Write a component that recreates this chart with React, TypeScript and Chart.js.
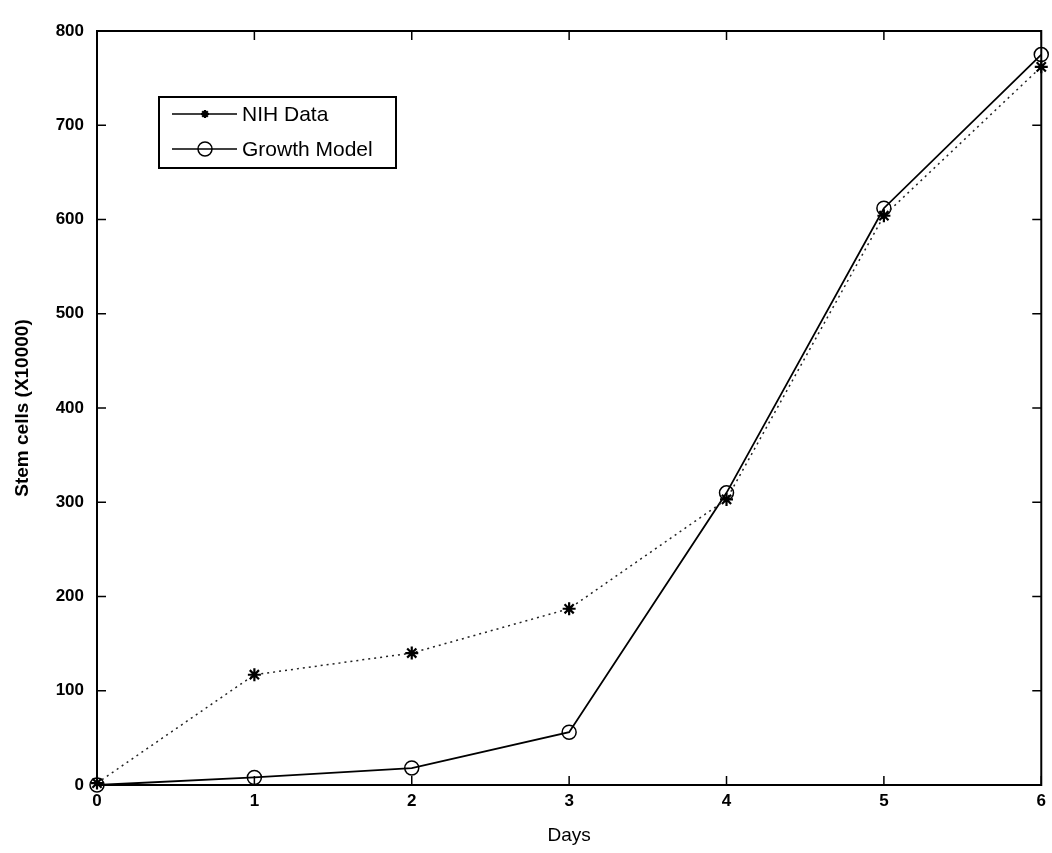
import React, { useEffect, useRef } from "react";
import { Chart, registerables } from "chart.js";

Chart.register(...registerables);

// Observation days and cell counts (in units of 10,000 cells)
const days = [0, 1, 2, 3, 4, 5, 6];
const nihData = [2, 117, 140, 187, 303, 604, 762];
const growthModel = [0, 8, 18, 56, 310, 612, 775];
const yTickValues = [0, 100, 200, 300, 400, 500, 600, 700, 800];
const xTickValues = [0, 1, 2, 3, 4, 5, 6];
const seriesNames = ["NIH Data", "Growth Model"];

const FONT = "'Liberation Sans', Arial, Helvetica, sans-serif";

function drawStar(ctx: CanvasRenderingContext2D, x: number, y: number, r: number) {
  ctx.beginPath();
  ctx.moveTo(x - r, y);
  ctx.lineTo(x + r, y);
  ctx.moveTo(x, y - r);
  ctx.lineTo(x, y + r);
  const d = r * 0.7071;
  ctx.moveTo(x - d, y - d);
  ctx.lineTo(x + d, y + d);
  ctx.moveTo(x - d, y + d);
  ctx.lineTo(x + d, y - d);
  ctx.stroke();
}

// Axes frame with inward ticks on all four sides, plus the boxed legend
const framePlugin = {
  id: "matlabFrame",
  afterDraw(chart: any) {
    const { ctx, chartArea } = chart;
    const { left, right, top, bottom } = chartArea;
    const xs = chart.scales.x;
    const ys = chart.scales.y;
    const tick = 9;
    ctx.save();
    ctx.strokeStyle = "#000";
    ctx.lineWidth = 2;
    ctx.strokeRect(left, top, right - left, bottom - top);
    ctx.lineWidth = 1.5;
    ctx.beginPath();
    xTickValues.forEach((v) => {
      const px = xs.getPixelForValue(v);
      ctx.moveTo(px, bottom);
      ctx.lineTo(px, bottom - tick);
      ctx.moveTo(px, top);
      ctx.lineTo(px, top + tick);
    });
    yTickValues.forEach((v) => {
      const py = ys.getPixelForValue(v);
      ctx.moveTo(left, py);
      ctx.lineTo(left + tick, py);
      ctx.moveTo(right, py);
      ctx.lineTo(right - tick, py);
    });
    ctx.stroke();

    // legend
    const lx = 159, ly = 97, lw = 237, lh = 71;
    ctx.fillStyle = "#fff";
    ctx.fillRect(lx, ly, lw, lh);
    ctx.lineWidth = 2;
    ctx.strokeRect(lx, ly, lw, lh);
    const rows = [114, 149];
    ctx.font = `21px ${FONT}`;
    ctx.textBaseline = "middle";
    ctx.textAlign = "left";
    rows.forEach((ry, i) => {
      ctx.strokeStyle = "#000";
      ctx.lineWidth = 1.5;
      ctx.beginPath();
      ctx.moveTo(172, ry);
      ctx.lineTo(237, ry);
      ctx.stroke();
      if (i === 0) {
        ctx.lineWidth = 2.2;
        drawStar(ctx, 205, ry, 4);
      } else {
        ctx.lineWidth = 1.5;
        ctx.beginPath();
        ctx.arc(205, ry, 7, 0, Math.PI * 2);
        ctx.stroke();
      }
      ctx.fillStyle = "#000";
      ctx.fillText(seriesNames[i], 242, ry + 1);
    });
    ctx.restore();
  },
};

export default function App() {
  const canvasRef = useRef<HTMLCanvasElement | null>(null);

  useEffect(() => {
    const canvas = canvasRef.current;
    if (!canvas) return;
    const chart = new Chart(canvas, {
      type: "line",
      data: {
        datasets: [
          {
            label: seriesNames[0],
            data: days.map((d, i) => ({ x: d, y: nihData[i] })),
            borderColor: "#222",
            borderWidth: 1.5,
            borderDash: [2, 4],
            pointStyle: "star",
            pointRadius: 6.5,
            pointBorderWidth: 2.2,
            pointBorderColor: "#000",
            pointBackgroundColor: "#000",
            fill: false,
            clip: false,
          },
          {
            label: seriesNames[1],
            data: days.map((d, i) => ({ x: d, y: growthModel[i] })),
            borderColor: "#000",
            borderWidth: 1.8,
            pointStyle: "circle",
            pointRadius: 7,
            pointBorderWidth: 1.5,
            pointBorderColor: "#000",
            pointBackgroundColor: "rgba(0,0,0,0)",
            fill: false,
            clip: false,
          },
        ],
      },
      options: {
        responsive: false,
        animation: false,
        layout: { padding: { top: 31, right: 9, left: 0, bottom: 0 } },
        plugins: {
          legend: { display: false },
          tooltip: { enabled: false },
        },
        scales: {
          x: {
            type: "linear",
            min: 0,
            max: 6,
            afterFit: (s: any) => {
              s.height = 68;
            },
            afterBuildTicks: (s: any) => {
              s.ticks = xTickValues.map((v) => ({ value: v }));
            },
            grid: { display: false, drawTicks: false },
            border: { display: false },
            ticks: {
              color: "#000",
              padding: 6,
              font: { family: FONT, size: 17, weight: "bold" },
              maxRotation: 0,
            },
            title: {
              display: true,
              text: "Days",
              color: "#000",
              font: { family: FONT, size: 19 },
              padding: { top: 0, bottom: 6 },
            },
          },
          y: {
            type: "linear",
            min: 0,
            max: 800,
            afterFit: (s: any) => {
              s.width = 97;
            },
            afterBuildTicks: (s: any) => {
              s.ticks = yTickValues.map((v) => ({ value: v }));
            },
            grid: { display: false, drawTicks: false },
            border: { display: false },
            ticks: {
              color: "#000",
              padding: 13,
              font: { family: FONT, size: 17, weight: "bold" },
            },
            title: {
              display: true,
              text: "Stem cells (X10000)",
              color: "#000",
              font: { family: FONT, size: 19, weight: "bold" },
              padding: { top: 11, bottom: 0 },
            },
          },
        },
      },
      plugins: [framePlugin],
    } as any);
    return () => chart.destroy();
  }, []);

  return (
    <div style={{ position: "fixed", left: 0, top: 0, width: 1052, height: 853, background: "#fff" }}>
      <canvas ref={canvasRef} width={1052} height={853} style={{ display: "block" }} />
    </div>
  );
}
